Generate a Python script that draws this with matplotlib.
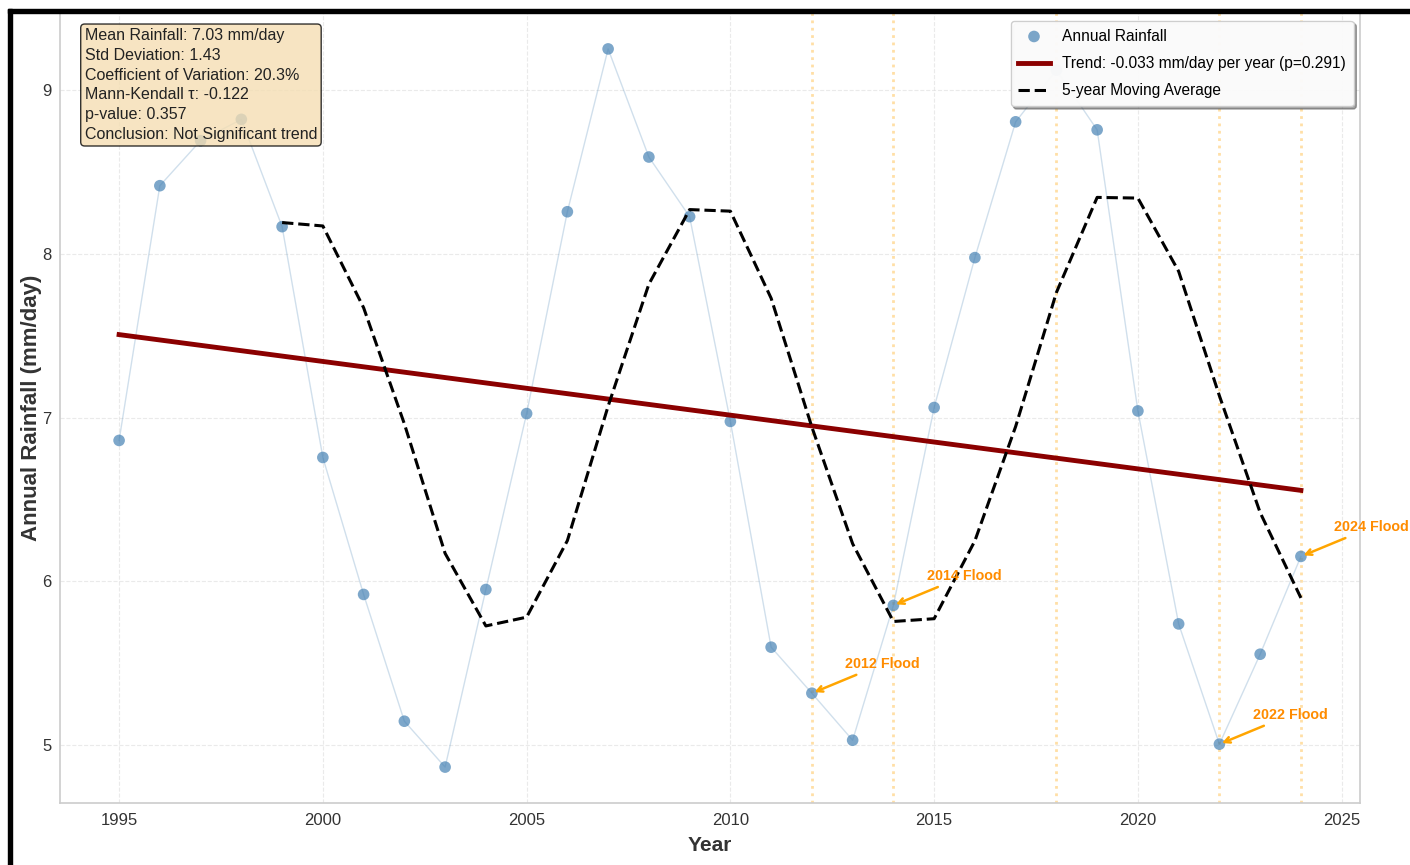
import numpy as np
import matplotlib.pyplot as plt
from matplotlib.patches import Rectangle

plt.rcParams['font.family'] = ['Liberation Sans', 'DejaVu Sans']

# annual rainfall (mm/day)
years = np.arange(1995, 2025)
rainfall = np.array([6.86, 8.415, 8.69, 8.82, 8.165,
                     6.756, 5.92, 5.146, 4.866, 5.95,
                     7.024, 8.256, 9.25, 8.59, 8.226,
                     6.976, 5.598, 5.317, 5.03, 5.853,
                     7.061, 7.976, 8.805, 9.12, 8.756,
                     7.04, 5.74, 5.006, 5.555, 6.152])

flood_years = [2012, 2014, 2018, 2022, 2024]
labelled_floods = [2012, 2014, 2022, 2024]

stats_lines = ["Mean Rainfall: 7.03 mm/day",
               "Std Deviation: 1.43",
               "Coefficient of Variation: 20.3%",
               "Mann-Kendall \u03c4: -0.122",
               "p-value: 0.357",
               "Conclusion: Not Significant trend"]
trend_label = "Trend: -0.033 mm/day per year (p=0.291)"

fig = plt.figure(figsize=(14.1, 8.65), dpi=100)
ax = fig.add_axes([60 / 1410, 1 - 803 / 865, 1300 / 1410, 790 / 865])

# flood markers
for fy in flood_years:
    ax.axvline(fy, color='orange', linestyle=':', linewidth=2, alpha=0.35, zorder=1)

ax.plot(years, rainfall, color='steelblue', linewidth=1, alpha=0.25, zorder=2)
ax.scatter(years, rainfall, s=70, color='steelblue', alpha=0.7, edgecolors='none',
           label='Annual Rainfall', zorder=3)

# linear trend
coef = np.polyfit(years, rainfall, 1)
ax.plot(years, np.polyval(coef, years), color='darkred', linewidth=3.5,
        label=trend_label, zorder=4)

# 5-year trailing moving average
ma = np.convolve(rainfall, np.ones(5) / 5, mode='valid')
ax.plot(years[4:], ma, color='black', linestyle='--', linewidth=2.2,
        label='5-year Moving Average', zorder=4)

for fy in labelled_floods:
    v = rainfall[years == fy][0]
    ax.annotate(f'{fy} Flood', xy=(fy, v), xytext=(24, 16), textcoords='offset points',
                ha='left', va='bottom', fontsize=10.3, fontweight='bold', color='darkorange',
                arrowprops=dict(arrowstyle='->', color='orange', lw=1.8), zorder=6)

ax.text(0.019, 0.981, "\n".join(stats_lines), transform=ax.transAxes, va='top', ha='left',
        fontsize=11.5, color='#222222', linespacing=1.4,
        bbox=dict(boxstyle='round,pad=0.25', facecolor='wheat', alpha=0.8, edgecolor='black'),
        zorder=7)

ax.set_xlabel('Year', fontsize=15, fontweight='bold', color='#333333', labelpad=6)
ax.set_ylabel('Annual Rainfall (mm/day)', fontsize=16, fontweight='bold', color='#333333',
              labelpad=0)
ax.set_xticks(np.arange(1995, 2030, 5))
ax.set_yticks([5, 6, 7, 8, 9])
ax.tick_params(labelsize=12, colors='#333333', length=0)
ax.tick_params(axis='x', pad=7)
ax.tick_params(axis='y', pad=6)
ax.grid(True, linestyle='--', color='#dddddd', alpha=0.6)
for s in ax.spines.values():
    s.set_color('#cccccc')
    s.set_linewidth(1.2)

leg = ax.legend(loc='upper right', fontsize=11.2, frameon=True, shadow=True, fancybox=True,
                framealpha=0.95, borderpad=0.5, labelspacing=0.8, bbox_to_anchor=(1.001, 1.0))
leg.get_frame().set_edgecolor('#cccccc')

# screenshot border
fig.add_artist(Rectangle((8 / 1410, 1 - 13 / 865), 1 - 8 / 1410, 4 / 865,
                         transform=fig.transFigure, color='black', zorder=10))
fig.add_artist(Rectangle((8 / 1410, 0), 4 / 1410, 1 - 9 / 865,
                         transform=fig.transFigure, color='black', zorder=10))

fig.savefig('out.png', dpi=100)
